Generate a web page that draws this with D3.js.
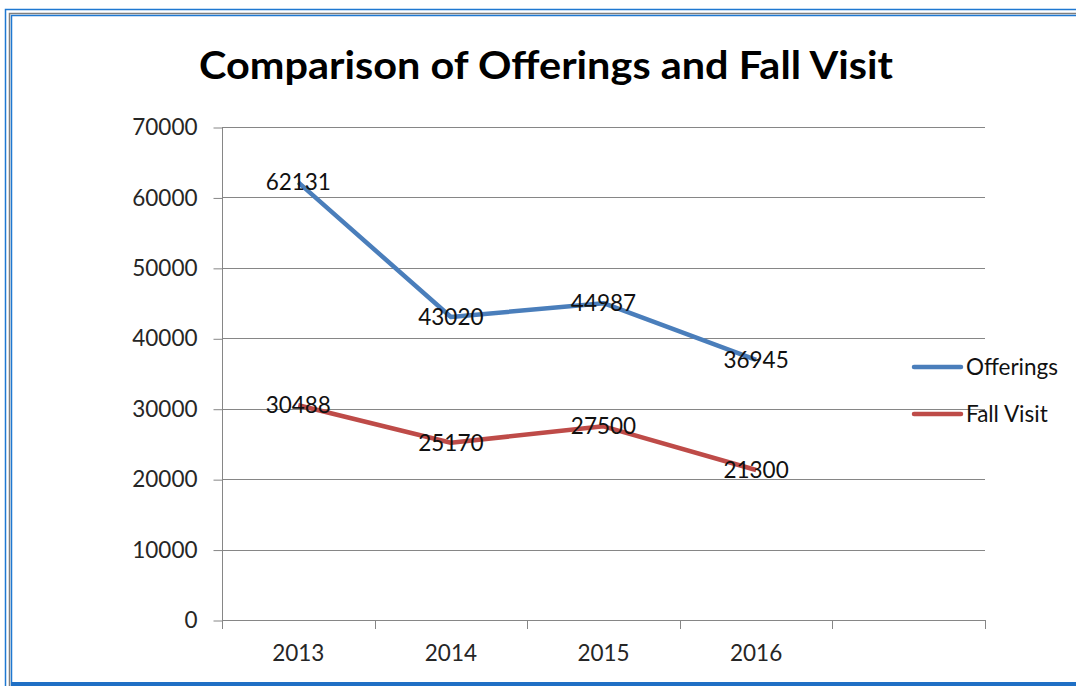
<!DOCTYPE html>
<html><head><meta charset="utf-8">
<script src="https://cdn.jsdelivr.net/npm/d3@7"></script>
<style>
html,body{margin:0;padding:0;background:#fff;}
svg{display:block;}
text{font-family:Lato,"Open Sans",sans-serif;}
</style></head>
<body>
<svg id="c" width="1076" height="686"></svg>
<script>
const categories = ["2013","2014","2015","2016",""];
const offerings = [62131, 43020, 44987, 36945];
const fallVisit = [30488, 25170, 27500, 21300];
const seriesNames = ["Offerings","Fall Visit"];
const seriesColors = ["#4A7EBB","#BE4B48"];
const yTicks = [0,10000,20000,30000,40000,50000,60000,70000];
const title = "Comparison of Offerings and Fall Visit";

const svg = d3.select("#c");
const FS = 22.5;

// frame
svg.append("rect").attr("x",5.5).attr("y",9.5).attr("width",1100).attr("height",700)
  .attr("fill","none").attr("stroke","#1F78D1").attr("stroke-width",1.5);
svg.append("rect").attr("x",9.5).attr("y",13.5).attr("width",1100).attr("height",700)
  .attr("fill","none").attr("stroke","#7F7F7F").attr("stroke-width",1.5);
svg.append("rect").attr("x",11.5).attr("y",15.5).attr("width",1100).attr("height",700)
  .attr("fill","none").attr("stroke","#1F78D1").attr("stroke-width",1.5);
svg.append("rect").attr("x",11).attr("y",682).attr("width",1076).attr("height",4).attr("fill","#1F6FC5");

const x = d3.scaleBand().domain(categories.map((d,i)=>i)).range([222,985]);
const y = d3.scaleLinear().domain([0,70000]).range([620,127]);

// title
svg.append("text").attr("x",546).attr("y",79).attr("text-anchor","middle")
  .attr("font-size",39).attr("font-weight",700).attr("fill","#000")
  .attr("textLength",694).attr("lengthAdjust","spacingAndGlyphs").text(title);

// gridlines
svg.append("g").selectAll("line").data(yTicks.slice(1)).join("line")
  .attr("x1",222).attr("x2",985).attr("y1",d=>Math.round(y(d))+0.5).attr("y2",d=>Math.round(y(d))+0.5)
  .attr("stroke","#868686").attr("stroke-width",1);

// y axis
const yAxis = svg.append("g").attr("transform","translate(222.5,0.5)")
  .call(d3.axisLeft(y).tickValues(yTicks).tickSize(9).tickPadding(16).tickFormat(d3.format("d")));
yAxis.select(".domain").attr("stroke","#868686").attr("d","M0,"+Math.round(y(70000))+"V"+Math.round(y(0)));
yAxis.selectAll(".tick line").attr("stroke","#868686");
yAxis.selectAll("text").attr("font-size",FS).attr("fill","#262626").attr("font-family","Lato");

// x axis
const xAxis = svg.append("g").attr("transform","translate(0,"+(Math.round(y(0))+0.5)+")")
  .call(d3.axisBottom(x).tickSize(0).tickPadding(25).tickFormat(i=>categories[i]));
xAxis.select(".domain").attr("stroke","#868686").attr("d","M222,0H985");
xAxis.selectAll("text").attr("font-size",FS).attr("fill","#262626").attr("font-family","Lato");
const bounds = d3.range(categories.length+1).map(i=> i<categories.length ? x(i) : x(categories.length-1)+x.bandwidth());
svg.append("g").selectAll("line").data(bounds).join("line")
  .attr("x1",d=>Math.round(d)+0.5).attr("x2",d=>Math.round(d)+0.5)
  .attr("y1",Math.round(y(0))).attr("y2",Math.round(y(0))+9)
  .attr("stroke","#868686");

const cx = i => x(i)+x.bandwidth()/2;
const line = d3.line().x((d,i)=>cx(i)).y(d=>y(d));
[offerings,fallVisit].forEach((s,k)=>{
  svg.append("path").datum(s).attr("d",line).attr("fill","none")
    .attr("stroke",seriesColors[k]).attr("stroke-width",4.5).attr("stroke-linejoin","round");
});
[offerings,fallVisit].forEach((s,k)=>{
  svg.append("g").selectAll("text").data(s).join("text")
    .attr("x",(d,i)=>cx(i)).attr("y",d=>y(d)+8).attr("text-anchor","middle")
    .attr("font-size",FS).attr("fill","#111").text(d=>d);
});

// legend
const lg = svg.append("g");
seriesNames.forEach((n,k)=>{
  const ly = 367 + k*47;
  lg.append("line").attr("x1",914).attr("x2",961).attr("y1",ly).attr("y2",ly)
    .attr("stroke",seriesColors[k]).attr("stroke-width",4.5).attr("stroke-linecap","round");
  lg.append("text").attr("x",966).attr("y",ly+8).attr("font-size",FS).attr("fill","#111").text(n);
});
</script>
</body></html>
